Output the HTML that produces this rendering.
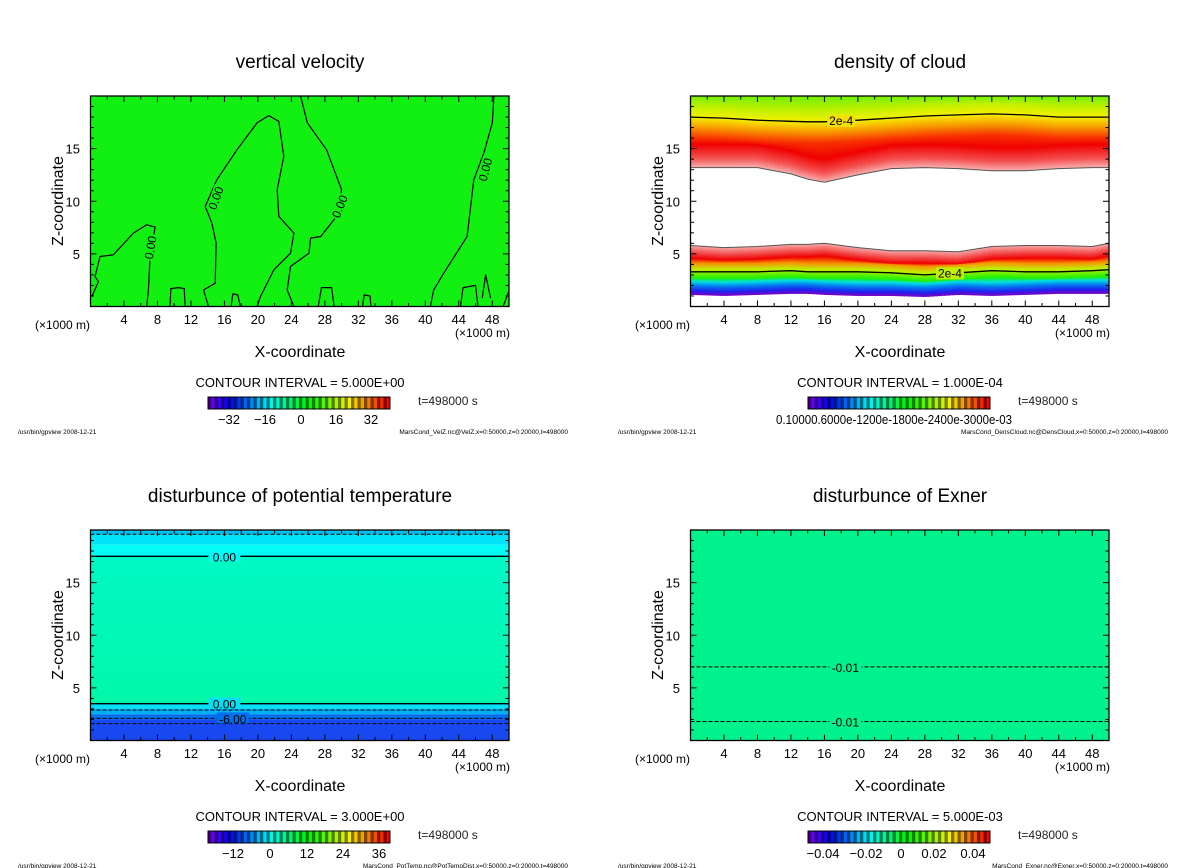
<!DOCTYPE html>
<html><head><meta charset="utf-8"><style>
html,body{margin:0;padding:0;background:#fff}
svg{display:block;font-family:"Liberation Sans",sans-serif}
</style></head><body>
<svg id="fig" width="1200" height="868" viewBox="0 0 1200 868" xmlns="http://www.w3.org/2000/svg"></svg>
<script>
// ---- data (x in km, z in km) ----
const xTicks=[4,8,12,16,20,24,28,32,36,40,44,48];
const zTicks=[5,10,15];
// vertical velocity zero contours
const wContourA=[[0.14,0.93],[0.94,2.36],[0.54,2.84],[1.14,4.75],[2.73,4.91],[5.12,6.97],[6.72,7.76],[7.72,7.54],[7.12,4.75],[6.92,1.59],[6.72,0]];
const wContourB=[[14.1,0],[13.5,1.57],[14.9,2.21],[15.0,6.02],[14.5,7.92],[13.7,9.51],[15.1,12.05],[17.5,14.9],[19.9,17.45],[21.3,18.14],[22.5,17.6],[23.1,14.27],[22.3,11.1],[22.5,8.56],[24.3,6.97],[23.9,5.06],[21.9,3.48],[20.3,0.94],[19.9,0]];
const wContourC=[[25.1,20],[25.9,17.45],[28.2,14.9],[30.0,11.1],[29.4,8.56],[27.5,6.65],[26.3,6.5],[26.1,5.06],[23.9,3.8],[23.5,1.57],[24.3,0]];
const wContourD=[[48.2,20],[48.0,17.45],[47.0,14.6],[45.8,12.05],[45.0,6.65],[42.2,3.16],[41.0,1.57],[40.6,0]];
const wSmall=[[[9.5,0],[9.6,1.7],[10.5,1.8],[11.2,1.7],[11.3,0]],[[16.8,0],[17.0,1.2],[17.6,1.1],[17.9,0]],[[27.2,0],[27.6,1.8],[28.8,1.8],[29.1,0]],[[32.5,0],[32.7,1.1],[33.4,1.0],[33.5,0]],[[44.2,0],[44.5,1.8],[46.0,2.0],[46.3,0]],[[46.8,0.8],[47.2,3.0],[47.8,0.8]],[[49.3,0],[50,1.5]]];
const wLabels=[[7.2,5.6,-80],[15.0,10.3,-70],[29.8,9.5,-68],[47.2,13.0,-75]];
// cloud density contours
const cloudX=[0,4,8,12,14,16,20,24,28,32,36,40,44,48,50];
const cloudUpperBottom=[13.2,13.2,13.2,12.6,12.1,11.8,12.5,13.1,13.2,13.1,12.9,12.9,13.1,13.2,13.2];
const cloudUpperContour=[18.0,17.9,17.7,17.6,17.55,17.55,17.7,17.9,18.1,18.2,18.3,18.2,18.0,18.0,18.0];
const cloudLowerTop=[5.8,5.6,5.7,5.9,5.9,6.0,5.6,5.3,5.3,5.2,5.7,5.8,5.8,5.7,6.0];
const cloudLowerContour=[3.3,3.3,3.3,3.4,3.3,3.3,3.3,3.2,3.0,3.2,3.4,3.3,3.3,3.4,3.5];
const cloudBase=[1.1,1.0,1.1,1.2,1.2,1.1,1.0,1.0,0.9,1.1,1.0,1.1,1.2,1.2,1.2];
// potential temperature
const ptSolid=[17.5,3.5];
const ptDashed=[19.6,2.9,2.1,1.6];
const ptLabels=[[16,17.5,"0.00"],[16,3.5,"0.00"],[17,2.1,"-6.00"]];
// exner
const exLevels=[7.0,1.8];
const exLabels=["-0.01","-0.01"];

const NS="http://www.w3.org/2000/svg";
const svg=document.getElementById('fig');
function mk(tag,attrs,parent,text){const e=document.createElementNS(NS,tag);for(const k in attrs)e.setAttribute(k,attrs[k]);if(text!==undefined)e.textContent=text;(parent||svg).appendChild(e);return e;}
const defs=mk('defs',{});
let gid=0;
function grad(stops,Y0,Y1){const id='g'+(gid++);const g=mk('linearGradient',{id:id,gradientUnits:'userSpaceOnUse',x1:0,x2:0,y1:Y1,y2:Y0},defs);stops.forEach(s=>mk('stop',{offset:Math.max(0,Math.min(1,s[0])),'stop-color':s[1]},g));return id;}
function interp(xs,ys,x){for(let i=0;i<xs.length-1;i++){if(x<=xs[i+1]){const t=(x-xs[i])/(xs[i+1]-xs[i]);return ys[i]+t*(ys[i+1]-ys[i]);}}return ys[ys.length-1];}
function hsl(h,l){return `hsl(${h},100%,${l}%)`;}

function panel(ox,oy,opt){
  const X0=ox+90.5,X1=ox+509,Y0=oy+96,Y1=oy+306.5;
  const sx=x=>X0+x*(X1-X0)/50, sz=z=>Y1-z*(Y1-Y0)/20;
  const g=mk('g',{});
  
  
  const t=mk('text',{x:ox+300,y:oy+68,'font-size':19,'text-anchor':'middle'},g,opt.title);
  
  const plot=mk('g',{},g);
  
  opt.draw(plot,sx,sz,X0,X1,Y0,Y1);
  const fr=mk('rect',{x:X0,y:Y0,width:X1-X0,height:Y1-Y0,fill:'none',stroke:'#000','stroke-width':1.3},g);
  
  for(let x=2;x<50;x+=2){const L=(x%4===0)?6:3.5;
    mk('line',{x1:sx(x),x2:sx(x),y1:Y1,y2:Y1-L,stroke:'#000'},g);mk('line',{x1:sx(x),x2:sx(x),y1:Y0,y2:Y0+L,stroke:'#000'},g);}
  for(let z=1;z<20;z++){const L=(z%5===0)?6:3.5;
    mk('line',{x1:X0,x2:X0+L,y1:sz(z),y2:sz(z),stroke:'#000'},g);mk('line',{x1:X1,x2:X1-L,y1:sz(z),y2:sz(z),stroke:'#000'},g);}
  xTicks.forEach(v=>{const e=mk('text',{x:sx(v),y:oy+324,'font-size':13,'text-anchor':'middle'},g,String(v));});
  zTicks.forEach(v=>{const e=mk('text',{x:ox+80,y:sz(v)+5,'font-size':13,'text-anchor':'end'},g,String(v));});
  let e=mk('text',{x:ox+35,y:oy+329,'font-size':12},g,'(\u00d71000 m)');
  e=mk('text',{x:ox+455,y:oy+337,'font-size':12},g,'(\u00d71000 m)');
  e=mk('text',{x:ox+300,y:oy+357,'font-size':16,'text-anchor':'middle'},g,'X-coordinate');
  e=mk('text',{x:ox+63,y:oy+201,'font-size':16,'text-anchor':'middle',transform:`rotate(-90 ${ox+63} ${oy+201})`},g,'Z-coordinate');
  e=mk('text',{x:ox+300,y:oy+387,'font-size':13,'text-anchor':'middle'},g,'CONTOUR INTERVAL = '+opt.ci);
  const cb=mk('g',{},g);
  const n=56,cx0=ox+208,cw=182;
  for(let i=0;i<n;i++){const h=270-270*i/(n-1);mk('rect',{x:cx0+i*cw/n,y:oy+397,width:cw/n+0.3,height:12,fill:hsl(h,i%2?48:25)},cb);}
  mk('rect',{x:cx0,y:oy+397,width:cw,height:12,fill:'none',stroke:'#000'},cb);
  opt.cbLabels.forEach(l=>{const e=mk('text',{x:ox+l[0],y:oy+424,'font-size':13,'text-anchor':'middle'},cb,l[1]);});
  e=mk('text',{x:ox+418,y:oy+405,'font-size':12,fill:'#222'},g,'t=498000 s');
  e=mk('text',{x:ox+18,y:oy+434,'font-size':6.5},g,'/usr/bin/gpview   2008-12-21');
  e=mk('text',{x:ox+568,y:oy+434,'font-size':6.5,'text-anchor':'end'},g,opt.foot);
}
function pathOf(pts,sx,sz){return pts.map((p,i)=>(i?'L':'M')+sx(p[0]).toFixed(1)+','+sz(p[1]).toFixed(1)).join('');}

// Panel 1: vertical velocity
panel(0,0,{name:'vertical-velocity-panel',title:'vertical velocity',ci:'5.000E+00',
 cbLabels:[[229,'\u221232'],[265,'\u221216'],[301,'0'],[336,'16'],[371,'32']],
 foot:'MarsCond_VelZ.nc@VelZ,x=0:50000,z=0:20000,t=498000',
 draw:(p,sx,sz,X0,X1,Y0,Y1)=>{
  mk('rect',{x:X0,y:Y0,width:X1-X0,height:Y1-Y0,fill:'#12f012'},p);
  [wContourA,wContourB,wContourC,wContourD].concat(wSmall).forEach(c=>{const e=mk('path',{d:pathOf(c,sx,sz),fill:'none',stroke:'#000','stroke-width':1.2,'stroke-linejoin':'round'},p);});
  wLabels.forEach(l=>{const x=sx(l[0]),y=sz(l[1]);mk('rect',{x:x-13,y:y-6,width:26,height:12,fill:'#12f012',transform:`rotate(${l[2]} ${x} ${y})`},p);
   const e=mk('text',{x:x,y:y+4,'font-size':12,'text-anchor':'middle',transform:`rotate(${l[2]} ${x} ${y})`},p,'0.00');});
 }});

// Panel 2: density of cloud
panel(600,0,{name:'cloud-density-panel',title:'density of cloud',ci:'1.000E-04',
 cbLabels:[],
 foot:'MarsCond_DensCloud.nc@DensCloud,x=0:50000,z=0:20000,t=498000',
 draw:(p,sx,sz,X0,X1,Y0,Y1)=>{
  const N=100;const f=z=>z/20;
  for(let i=0;i<N;i++){
   const xa=50*i/N,xm=50*(i+0.5)/N;
   const b=interp(cloudX,cloudUpperBottom,xm),c=interp(cloudX,cloudUpperContour,xm);
   const tp=interp(cloudX,cloudLowerTop,xm),lc=interp(cloudX,cloudLowerContour,xm),bs=interp(cloudX,cloudBase,xm);
   const gu=grad([[0,'#f8b0b0'],[f(b),'#f8b0b0'],[f(b+0.9),'#f45050'],[f(b+2.2),'#f00000'],[f(c-2.0),'#f83000'],[f(c-0.9),'#f8a000'],[f(c),'#f4f000'],[f(c+1.0),'#c0f000'],[1,'#70f000']],Y0,Y1);
   const gl=grad([[0,'#ffffff'],[f(bs),'#8000c0'],[f(bs+0.4),'#2020f0'],[f(bs+0.9),'#0080f0'],[f(bs+1.3),'#00e0e0'],[f(lc-0.6),'#20f000'],[f(lc+0.2),'#c0f000'],[f(lc+0.8),'#f89000'],[f(tp-1.2),'#f00000'],[f(tp),'#f6a8a8'],[1,'#f6a8a8']],Y0,Y1);
   const w=sx(50/N)-sx(0)+0.4;
   mk('rect',{x:sx(xa),y:Y0,width:w,height:sz(b)-Y0,fill:`url(#${gu})`},p);
   mk('rect',{x:sx(xa),y:sz(tp),width:w,height:sz(bs)-sz(tp),fill:`url(#${gl})`},p);
  }
  const line=(arr,sw,col)=>{const e=mk('path',{d:pathOf(cloudX.map((x,i)=>[x,arr[i]]),sx,sz),fill:'none',stroke:col,'stroke-width':sw},p);};
  line(cloudUpperContour,1.3,'#000');line(cloudLowerContour,1.3,'#000');line(cloudUpperBottom,1,'#555');line(cloudLowerTop,1,'#555');
  const lab=(x,z)=>{mk('rect',{x:sx(x)-14,y:sz(z)-6,width:28,height:12,fill:(z>10?'#f4e000':'#c0f000')},p);const e=mk('text',{x:sx(x),y:sz(z)+4,'font-size':12,'text-anchor':'middle'},p,'2e-4');};
  lab(18,interp(cloudX,cloudUpperContour,18));lab(31,interp(cloudX,cloudLowerContour,31));
 }});
(function(){const e=mk('text',{x:776,y:424,'font-size':13,textLength:236,lengthAdjust:'spacingAndGlyphs'},svg,'0.10000.6000e-1200e-1800e-2400e-3000e-03');

})();

// Panel 3: potential temperature
panel(0,434,{name:'potential-temperature-panel',title:'disturbunce of potential temperature',ci:'3.000E+00',
 cbLabels:[[233,'\u221212'],[270,'0'],[307,'12'],[343,'24'],[379,'36']],
 foot:'MarsCond_PotTemp.nc@PotTempDist,x=0:50000,z=0:20000,t=498000',
 draw:(p,sx,sz,X0,X1,Y0,Y1)=>{
  const bands=[[19.6,20,'#00c0f0'],[18.6,19.6,'#00e4f8'],[17.5,18.6,'#00fcf4'],[3.5,17.5,null],[3.0,3.5,'#00e0f4'],[2.5,3.0,'#00b0f4'],[2.0,2.5,'#0070f0'],[0,2.0,'#1848f0']];
  const gm=grad([[0,'#00f8c4'],[0.5,'#00f8b8'],[1,'#00f8a8']],sz(3.5),sz(17.5));
  bands.forEach(b=>mk('rect',{x:X0,y:sz(b[1]),width:X1-X0,height:sz(b[0])-sz(b[1]),fill:b[2]||`url(#${gm})`},p));
  ptSolid.forEach(z=>{const e=mk('line',{x1:X0,x2:X1,y1:sz(z),y2:sz(z),stroke:'#000','stroke-width':1.3},p);});
  ptDashed.forEach(z=>{const e=mk('line',{x1:X0,x2:X1,y1:sz(z),y2:sz(z),stroke:'#000','stroke-width':1,'stroke-dasharray':'4,2'},p);});
  ptLabels.forEach(l=>{const x=sx(l[0]),y=sz(l[1]);mk('rect',{x:x-16,y:y-6,width:32,height:11,fill:l[1]>10?'#00fcf4':(l[1]>3?'#00e0f4':'#0070f0')},p);const e=mk('text',{x:x,y:y+5,'font-size':12,'text-anchor':'middle'},p,l[2]);});
 }});

// Panel 4: exner
panel(600,434,{name:'exner-panel',title:'disturbunce of Exner',ci:'5.000E-03',
 cbLabels:[[223,'\u22120.04'],[266,'\u22120.02'],[301,'0'],[334,'0.02'],[373,'0.04']],
 foot:'MarsCond_Exner.nc@Exner,x=0:50000,z=0:20000,t=498000',
 draw:(p,sx,sz,X0,X1,Y0,Y1)=>{
  mk('rect',{x:X0,y:Y0,width:X1-X0,height:Y1-Y0,fill:'#00f28c'},p);
  exLevels.forEach((z,i)=>{const e=mk('line',{x1:X0,x2:X1,y1:sz(z),y2:sz(z),stroke:'#000','stroke-width':1,'stroke-dasharray':'4,2'},p);
   const x=sx(18.5);mk('rect',{x:x-16,y:sz(z)-6,width:32,height:12,fill:'#00f28c'},p);
   const t=mk('text',{x:x,y:sz(z)+5,'font-size':12,'text-anchor':'middle'},p,exLabels[i]);});
 }});
</script>
</body></html>
